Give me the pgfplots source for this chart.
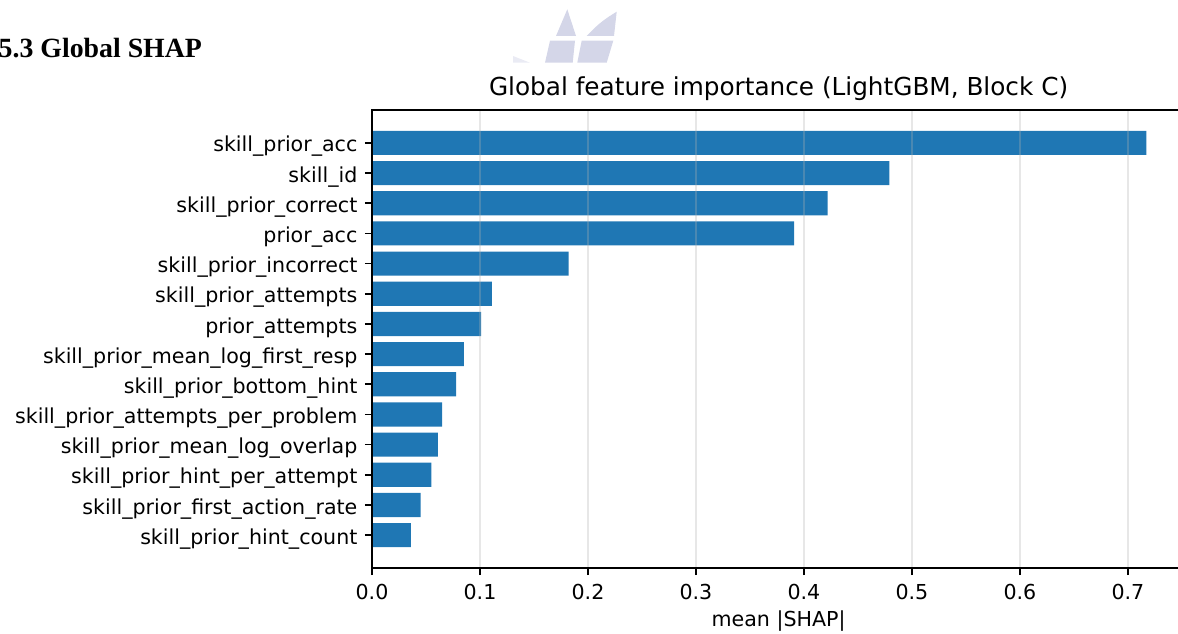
\documentclass[border=0pt]{standalone}
\usepackage{fontspec}
\setmainfont{DejaVu Sans}
\newfontfamily\headfont{Liberation Serif}
\usepackage{pgfplots}
\pgfplotsset{compat=1.18}

\definecolor{barblue}{HTML}{1F77B4}
\definecolor{wmark}{RGB}{212,214,232}
\definecolor{gridgray}{HTML}{B0B0B0}

\begin{document}
\begin{tikzpicture}
% page decorations (section heading and faint logo), in pixel-like units
\begin{scope}[x=0.4854pt,y=-0.4854pt]
  \fill[wmark] (567.3,9.3) -- (576,36) -- (556,36) -- cycle;
  \fill[wmark] (550,40.7) -- (575,40.7) -- (572.7,62.7) -- (545,62.7) -- cycle;
  \fill[wmark] (616.7,11.7) -- (614,36) -- (586.7,36) to[bend left=8] cycle;
  \fill[wmark] (581.7,40.7) -- (613.3,40.7) -- (606.7,62.7) -- (577.3,62.7) -- cycle;
  \fill[wmark!50] (513,56) -- (530,62.7) -- (513,62.7) -- cycle;
  \node[anchor=base west, inner sep=0pt,
        font=\headfont\bfseries\fontsize{13.5}{16}\selectfont]
        at (-1.7,58) {5.3 Global SHAP};
\end{scope}

\begin{axis}[
  at={(180.57pt,-275.71pt)}, anchor=south west,
  scale only axis, width=394.7pt, height=222.3pt,
  xmin=0, xmax=0.753, ymin=-1.09, ymax=14.09,
  xtick={0,0.1,0.2,0.3,0.4,0.5,0.6,0.7},
  xticklabels={0.0,0.1,0.2,0.3,0.4,0.5,0.6,0.7},
  ytick={0,1,2,3,4,5,6,7,8,9,10,11,12,13},
  yticklabels={
    skill\_prior\_hint\_count,
    skill\_prior\_first\_action\_rate,
    skill\_prior\_hint\_per\_attempt,
    skill\_prior\_mean\_log\_overlap,
    skill\_prior\_attempts\_per\_problem,
    skill\_prior\_bottom\_hint,
    skill\_prior\_mean\_log\_first\_resp,
    prior\_attempts,
    skill\_prior\_attempts,
    skill\_prior\_incorrect,
    prior\_acc,
    skill\_prior\_correct,
    skill\_id,
    skill\_prior\_acc},
  xtick pos=bottom, ytick pos=left,
  tick align=outside, major tick length=3.5pt,
  tick style={black, line width=0.8pt},
  axis line style={black, line width=0.8pt},
  xmajorgrids,
  grid style={gridgray, opacity=0.3, line width=0.8pt},
  axis on top,
  ticklabel style={font=\fontsize{10}{12}\selectfont},
  xticklabel style={anchor=base, inner sep=0pt, yshift=-12pt},
  yticklabel style={anchor=base east, inner sep=0pt, xshift=-3.4pt, yshift=-4.4pt},
  title={Global feature importance (LightGBM, Block C)},
  title style={font=\fontsize{12}{14}\selectfont, at={(0.5,1)}, anchor=base,
               inner sep=0pt, yshift=1pt},
  xlabel={mean |SHAP|},
  xlabel style={font=\fontsize{10}{12}\selectfont, at={(0.5,0)}, anchor=base,
                inner sep=0pt, yshift=-28.5pt},
]
\addplot[xbar, bar width=0.8, bar shift=0pt, fill=barblue, draw=none]
  coordinates {
    (0.036,0) (0.045,1) (0.055,2) (0.061,3) (0.065,4) (0.078,5) (0.085,6)
    (0.101,7) (0.111,8) (0.182,9) (0.391,10) (0.422,11) (0.479,12) (0.717,13)
  };
\end{axis}

\pgfresetboundingbox
\path (0pt,0pt) rectangle (571.8pt,-307.26pt);
\end{tikzpicture}
\end{document}
